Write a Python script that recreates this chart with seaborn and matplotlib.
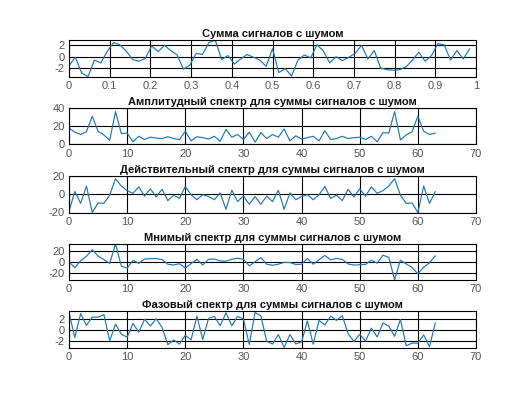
import numpy as np
import pandas as pd
import matplotlib
matplotlib.use("Agg")
import matplotlib.pyplot as plt
import seaborn as sns

# ---- data ----
signal = [-1.6, -0.1, -2.9, -3.5, -0.6, -1.1, 0.9, 2.5, 2.1, 1.0,
          -0.5, -0.8, -0.3, 1.9, 0.9, 2.0, 1.1, 0.3, -2.2, -1.5,
          0.6, 0.4, 2.5, 2.9, -0.5, 0.2, -1.3, -0.4, 0.4, -0.1,
          -0.6, -1.7, 1.4, -2.8, -2.1, -3.4, -0.6, 0.3, -0.2, 2.1,
          1.0, -1.1, 0.0, -0.7, -0.1, 0.6, 2.0, -0.4, 1.1, -2.0,
          -2.3, -2.4, -2.3, -1.8, -0.6, 0.8, -0.8, 0.2, 2.3, 2.1,
          -0.6, 1.1, -0.4, 1.4]
t_values = [k / 64 for k in range(64)]

amplitude = [18, 13.5, 11, 14, 31, 14.5, 10.5, 4.5, 36, 12,
             12.5, 3, 9, 5.5, 8, 7, 6.5, 8.5, 6.5, 5.5,
             14.5, 4, 8.5, 7.5, 6, 9, 3.5, 16.5, 8, 11,
             5.5, 13.5, 2.5, 13, 6.5, 11, 8, 17, 4, 9.5,
             6, 7.5, 9, 4, 15, 5.5, 6.5, 9, 6.5, 7.5,
             8, 5.5, 9, 3, 13, 12.5, 36, 5, 10.5, 14,
             31, 14.5, 11, 12.5]

real_part = [-18.6, 3, -10, 9, -20, -9.5, -10, -1, 17, 9,
             4, 1, 8, -2, 6, -3, 5.5, -7, -1, -4.5,
             8.5, -0.5, -6, -0.5, -2.5, -6, 1.5, -16.5, 4.5, -8,
             -2, -11, -2.5, -11, -2, -8, 4.5, -16.5, 1.5, -6,
             -2.5, -0.5, -6, -0.5, 8.5, -4.5, -1, -7, 5.5, -3,
             6, -2, 8, 1, 4, 9, 17, -1, -10, -9.5,
             -20, 9, -10, 3]

imag_part = [0, -11, 2, 10, 22, 10.5, 4, -3, 33, -8,
             -12, 2.5, -3, 5, 5.5, 6, 4, -4.5, -6, -3.5,
             -11.5, -3.5, 4.5, -6, 4.5, 5, 1.5, 1, 4.5, 6.5,
             4.5, -7.5, 0, 7.5, -4.5, -6.5, -4.5, -1, -1.5, -5,
             -4.5, 6, -4.5, 3.5, 11.5, 3.5, 6, 4.5, -4, -6,
             -5.5, -5, 3, -2.5, 12, 8, -33, 3, -4, -10.5,
             -22, -10, -2, 11]

phase = [3.14, -1.3, 2.94, 0.84, 2.31, 2.31, 2.76, -1.9, 1.09, -0.73,
         -1.25, 1.19, -0.36, 1.95, 0.74, 2.03, 0.5, -2.57, -1.74, -2.48,
         -0.93, -1.71, 2.5, -1.65, 2.08, 2.45, 0.79, 3.08, 0.79, 2.46,
         1.99, -2.54, 3.14, 2.54, -1.99, -2.46, -0.79, -3.08, -0.79, -2.45,
         -2.08, 1.65, -2.5, 1.71, 0.93, 2.48, 1.74, 2.57, -0.63, -2.03,
         -0.74, -1.95, 0.36, -1.19, 1.25, 0.73, -1.09, 1.9, -2.76, -2.31,
         -2.31, -0.84, -2.94, 1.3]
k_values = list(range(64))

titles = ["Сумма сигналов с шумом",
          "Амплитудный спектр для суммы сигналов с шумом",
          "Действительный спектр для суммы сигналов с шумом",
          "Мнимый спектр для суммы сигналов с шумом",
          "Фазовый спектр для суммы сигналов с шумом"]

sns.set_style("white")
plt.rcParams['font.family'] = ['Liberation Sans', 'DejaVu Sans']

W, H = 525, 393
fig = plt.figure(figsize=(W / 100, H / 100), dpi=100)

left_px, right_px = 69, 476
tops_px = [40, 108, 176, 243.5, 311]
height_px = 36.5

series = [
    (t_values, signal, (0, 1), np.arange(0, 1.01, 0.1), (-3.5, 2.95), [-2, 0, 2]),
    (k_values, amplitude, (0, 70), np.arange(0, 71, 10), (0, 40), [0, 20, 40]),
    (k_values, real_part, (0, 70), np.arange(0, 71, 10), (-20, 20), [-20, 0, 20]),
    (k_values, imag_part, (0, 70), np.arange(0, 71, 10), (-33.5, 33.5), [-20, 0, 20]),
    (k_values, phase, (0, 70), np.arange(0, 71, 10), (-3.08, 3.4), [-2, 0, 2]),
]

line_color = "#1f77b4"
for i, (xs, ys, xl, xt, yl, yt) in enumerate(series):
    top = tops_px[i]
    ax = fig.add_axes([left_px / W, 1 - (top + height_px) / H,
                       (right_px - left_px) / W, height_px / H])
    df = pd.DataFrame({"x": xs, "y": ys})
    sns.lineplot(data=df, x="x", y="y", ax=ax, color=line_color, linewidth=0.85)
    ax.set_xlim(*xl)
    ax.set_ylim(*yl)
    ax.set_xticks(xt)
    ax.set_yticks(yt)
    if i == 0:
        ax.set_xticklabels(["0", "0.1", "0.2", "0.3", "0.4", "0.5",
                            "0.6", "0.7", "0.8", "0.9", "1"])
    else:
        ax.set_xticklabels([str(int(v)) for v in xt])
    ax.set_yticklabels([str(v) for v in yt])
    ax.grid(True, color="black", linewidth=0.8)
    ax.set_axisbelow(True)
    for s in ax.spines.values():
        s.set_color("black")
        s.set_linewidth(0.8)
    ax.tick_params(axis="both", length=0, labelsize=8, colors="#555555", pad=3)
    ax.set_xlabel("")
    ax.set_ylabel("")
    ax.set_title(titles[i], fontsize=8, fontweight="bold", color="#111111", pad=2)

fig.savefig("out.png", dpi=100)
